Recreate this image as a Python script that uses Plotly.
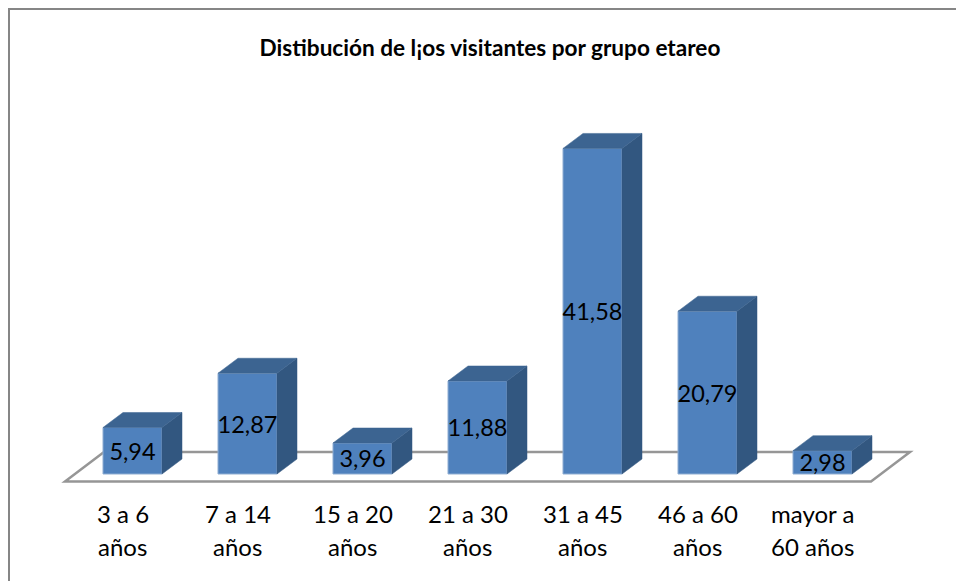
import plotly.graph_objects as go

# Age groups and the share of visitors in each one (percent)
line_one = ["3 a 6", "7 a 14", "15 a 20", "21 a 30", "31 a 45", "46 a 60", "mayor a"]
line_two = ["años", "años", "años", "años", "años", "años", "60 años"]
shares = [5.94, 12.87, 3.96, 11.88, 41.58, 20.79, 2.98]
share_labels = ["5,94", "12,87", "3,96", "11,88", "41,58", "20,79", "2,98"]

WIDTH, HEIGHT = 956, 581
FONT = "Lato, Carlito, Calibri, sans-serif"

# Pixel scale of the chart: one category step and one percentage point
STEP_PX = 115.0
UNIT_PX = 7.83
FIRST_CENTER_PX = 132.5
BASE_PX = 474.0

# Oblique depth of the bars, in data units
BAR_W = 59.0 / STEP_PX
DEPTH_X = 20.0 / STEP_PX
DEPTH_Y = 15.0 / UNIT_PX

x_range = [-FIRST_CENTER_PX / STEP_PX, (WIDTH - FIRST_CENTER_PX) / STEP_PX]
y_range = [(BASE_PX - HEIGHT) / UNIT_PX, BASE_PX / UNIT_PX]

idx = list(range(len(shares)))
fig = go.Figure()

# Side and top faces derived from each bar's value
for i, v in zip(idx, shares):
    left, right = i - BAR_W / 2, i + BAR_W / 2
    fig.add_trace(go.Scatter(
        x=[right, right + DEPTH_X, right + DEPTH_X, right, right],
        y=[0, DEPTH_Y, v + DEPTH_Y, v, 0],
        fill="toself", fillcolor="#325780", mode="lines",
        line=dict(color="#325780", width=0.5),
        hoverinfo="skip", showlegend=False,
    ))
    fig.add_trace(go.Scatter(
        x=[left, left + DEPTH_X, right + DEPTH_X, right, left],
        y=[v, v + DEPTH_Y, v + DEPTH_Y, v, v],
        fill="toself", fillcolor="#3C6491", mode="lines",
        line=dict(color="#3C6491", width=0.5),
        hoverinfo="skip", showlegend=False,
    ))

# Front faces with their value labels
fig.add_trace(go.Bar(
    x=idx, y=shares, width=BAR_W,
    text=share_labels, textposition="inside", insidetextanchor="middle",
    textangle=0, constraintext="none",
    textfont=dict(family=FONT, size=23.5, color="#000000"),
    marker=dict(color="#4F81BD", line=dict(color="#8FADD2", width=1)),
    hoverinfo="skip", showlegend=False,
))

# Two-line category labels, centred on the floor slots
LABEL_SHIFT = -10.0 / STEP_PX
annotations = []
for i, (a, b) in enumerate(zip(line_one, line_two)):
    for text, y_px in ((a, 513), (b, 546.5)):
        annotations.append(dict(
            x=i + LABEL_SHIFT, y=(BASE_PX - y_px) / UNIT_PX, xref="x", yref="y",
            text=text, showarrow=False, xanchor="center", yanchor="middle",
            font=dict(family=FONT, size=24, color="#000000"),
        ))

# Floor parallelogram, on the layer beneath the bars
floor_left = (65 - FIRST_CENTER_PX) / STEP_PX
floor_right = (871 - FIRST_CENTER_PX) / STEP_PX
floor_front = (BASE_PX - 481.5) / UNIT_PX
floor_back = (BASE_PX - 452) / UNIT_PX
floor_skew = 39.0 / STEP_PX
floor_path = (
    f"M {floor_left + floor_skew} {floor_back} L {floor_right + floor_skew} {floor_back} "
    f"L {floor_right} {floor_front} L {floor_left} {floor_front} Z"
)

fig.update_layout(
    width=WIDTH, height=HEIGHT,
    margin=dict(l=0, r=0, t=0, b=0),
    paper_bgcolor="#FFFFFF", plot_bgcolor="#FFFFFF",
    showlegend=False,
    title=dict(
        text="<b>Distibución de l¡os visitantes por grupo etareo</b>",
        x=490 / WIDTH, xanchor="center", y=1 - 48 / HEIGHT, yanchor="middle",
        font=dict(family=FONT, size=22.6, color="#000000"),
    ),
    xaxis=dict(range=x_range, visible=False, fixedrange=True),
    yaxis=dict(range=y_range, visible=False, fixedrange=True),
    annotations=annotations,
    shapes=[
        dict(type="path", path=floor_path, xref="x", yref="y", layer="below",
             line=dict(color="#969696", width=2.5)),
        # Chart frame: only the top and left edges fall inside the page
        dict(type="rect", xref="paper", yref="paper",
             x0=9 / WIDTH, x1=1.05, y0=-0.05, y1=1 - 9 / HEIGHT,
             line=dict(color="#868686", width=2)),
    ],
)

fig.write_html("out.html")
